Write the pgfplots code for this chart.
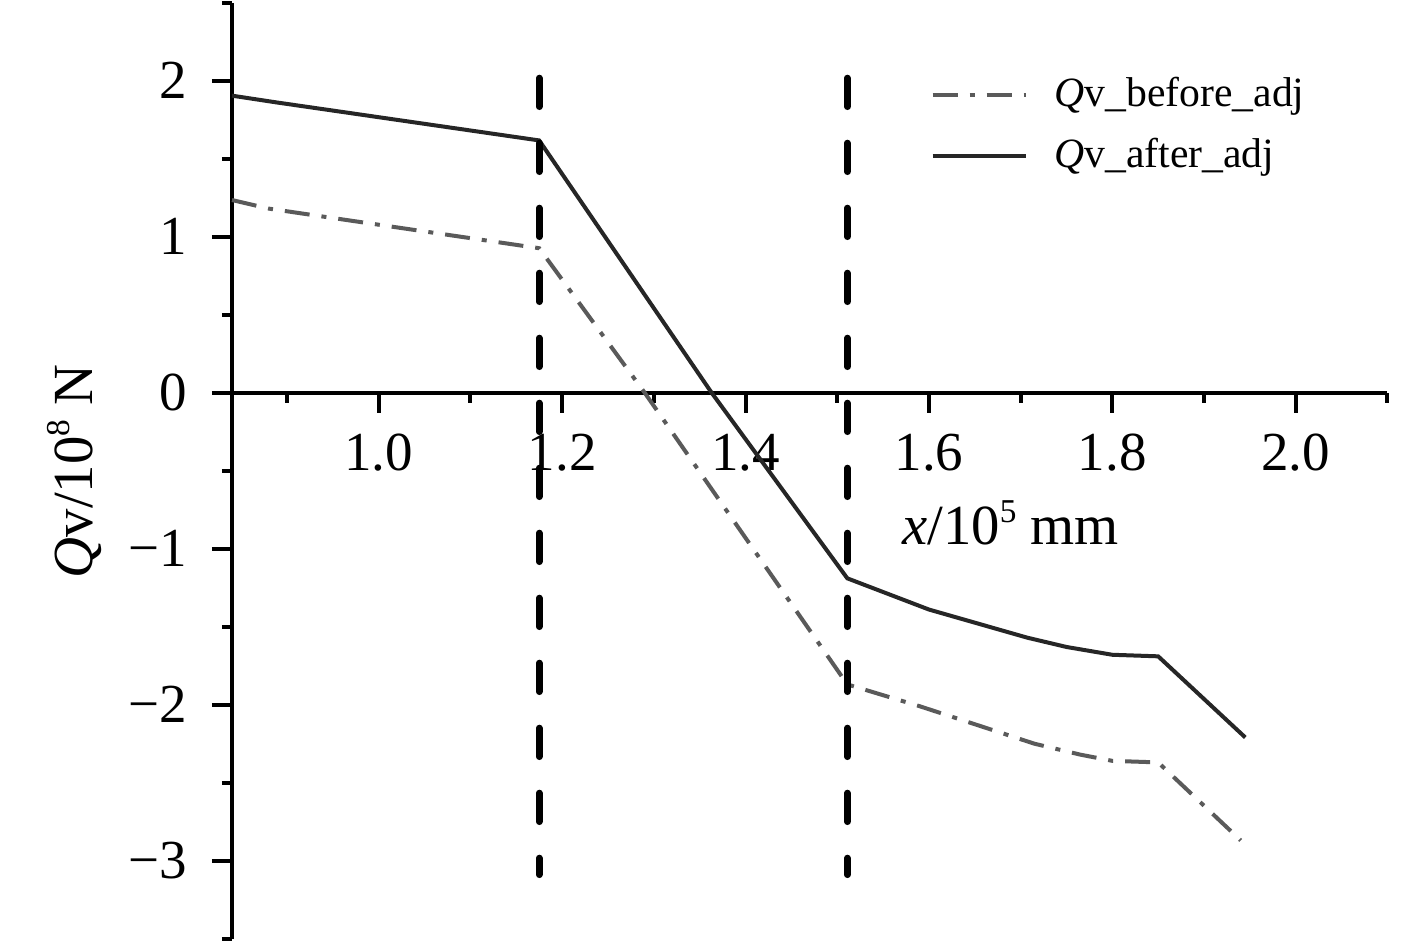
\documentclass[border=0pt]{standalone}
\usepackage{fontspec}
\setmainfont{Liberation Serif}
\usepackage{pgfplots}
\pgfplotsset{compat=1.18}
\definecolor{cafter}{HTML}{262626}
\definecolor{cbefore}{HTML}{5A5A5A}
\begin{document}
\begin{tikzpicture}
\begin{axis}[
  at={(0pt,0pt)}, anchor=south west,
  x=275.1pt, y=46.8pt,
  xmin=0.84, xmax=2.1, ymin=-3.5, ymax=2.5,
  axis x line=middle, axis y line=left,
  axis line style={-, line width=1.2pt, black},
  hide obscured x ticks=false, hide obscured y ticks=false,
  xtick={1.0,1.2,1.4,1.6,1.8,2.0},
  xticklabels={1.0,1.2,1.4,1.6,1.8,2.0},
  minor xtick={0.9,1.1,1.3,1.5,1.7,1.9,2.1},
  ytick={-3,-2,-1,0,1,2},
  yticklabels={−3,−2,−1,0,1,2},
  minor ytick={-3.5,-2.5,-1.5,-0.5,0.5,1.5,2.5},
  tick align=outside,
  major tick length=6pt, minor tick length=3pt,
  every tick/.style={line width=1.2pt, black},
  every minor tick/.style={line width=1.2pt, black},
  ticklabel style={font=\fontsize{16.5}{20}\selectfont},
  xticklabel style={anchor=base, yshift=-17.2pt},
  yticklabel style={anchor=east, xshift=-4pt},
  clip=false,
  legend style={draw=none, fill=none, at={(axis cs:1.601,1.715)}, anchor=west,
    inner sep=0pt, row sep=4pt, font=\fontsize{12.5}{15}\selectfont},
  legend cell align=left,
  legend image code/.code={\draw[#1] (0pt,0pt) -- (28pt,0pt); \path (34pt,0pt);},
]
\addplot[cbefore, line width=1.2pt, dash pattern=on 7.5pt off 3.6pt on 1.5pt off 3.6pt]
  coordinates {(0.84,1.235) (0.88,1.18) (1.175,0.926) (1.29,0.0) (1.511,-1.87) (1.59,-2.01) (1.715,-2.25) (1.765,-2.32) (1.80,-2.36) (1.85,-2.37) (1.94,-2.87)};
\addlegendentry{\textit{Q}v\_before\_adj}
\addplot[cafter, line width=1.2pt]
  coordinates {(0.84,1.904) (0.887,1.862) (1.175,1.617) (1.363,0.0) (1.511,-1.19) (1.60,-1.39) (1.707,-1.57) (1.75,-1.63) (1.80,-1.68) (1.85,-1.69) (1.945,-2.21)};
\addlegendentry{\textit{Q}v\_after\_adj}
\addplot[black, line width=2pt, line cap=round, dash pattern=on 8.6pt off 10.9pt, forget plot]
  coordinates {(1.175,2.017) (1.175,-3.09)};
\addplot[black, line width=2pt, line cap=round, dash pattern=on 8.6pt off 10.9pt, forget plot]
  coordinates {(1.511,2.017) (1.511,-3.09)};
\node[anchor=base, font=\fontsize{17}{20}\selectfont] at (axis cs:1.689,-0.976) {\textit{x}/10\raisebox{0.4em}{\fontsize{10}{11}\selectfont 5} mm};
\node[anchor=base, rotate=90, font=\fontsize{17}{20}\selectfont] at (axis cs:0.688,-0.504) {\textit{Q}v/10\raisebox{0.4em}{\fontsize{10}{11}\selectfont 8} N};
\end{axis}
\pgfresetboundingbox
\path[use as bounding box] (-69.6pt,-1.89pt) rectangle (355.5pt,281.61pt);
\end{tikzpicture}
\end{document}
